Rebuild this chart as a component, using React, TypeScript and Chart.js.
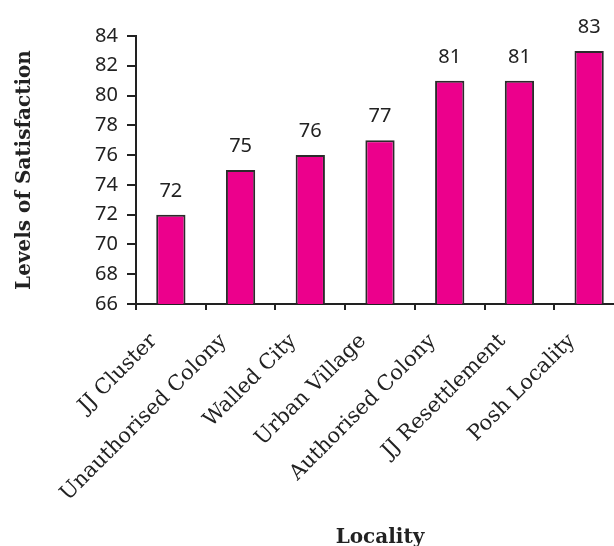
import React, { useEffect, useRef } from 'react';
import { Chart, registerables } from 'chart.js';

Chart.register(...registerables);

const categories = [
  'JJ Cluster',
  'Unauthorised Colony',
  'Walled City',
  'Urban Village',
  'Authorised Colony',
  'JJ Resettlement',
  'Posh Locality',
];
const satisfaction = [72, 75, 76, 77, 81, 81, 83];
const yTitle = 'Levels of Satisfaction';
const xTitle = 'Locality';
const yMin = 66;
const yMax = 84;
const yStep = 2;

const valueLabels = {
  id: 'valueLabels',
  afterDatasetsDraw(chart: any) {
    const ctx = chart.ctx;
    const meta = chart.getDatasetMeta(0);
    const data = chart.data.datasets[0].data;
    ctx.save();
    ctx.font = '20px "Noto Sans"';
    ctx.fillStyle = '#222';
    ctx.textAlign = 'center';
    ctx.textBaseline = 'alphabetic';
    meta.data.forEach((bar: any, i: number) => {
      ctx.fillText(String(data[i]), bar.x, bar.y - 18);
    });
    ctx.restore();
  },
};

export default function App() {
  const ref = useRef<HTMLCanvasElement>(null);
  useEffect(() => {
    if (!ref.current) return;
    const chart = new Chart(ref.current, {
      type: 'bar',
      data: {
        labels: categories,
        datasets: [
          {
            data: satisfaction,
            backgroundColor: '#EC008C',
            borderColor: '#2b2b2b',
            borderWidth: 2,
            borderSkipped: false,
            barPercentage: 1,
            categoryPercentage: 0.42,
          },
        ],
      },
      options: {
        responsive: false,
        animation: false,
        layout: { padding: { top: 36, right: 16, bottom: 0, left: 0 } },
        plugins: {
          legend: { display: false },
          tooltip: { enabled: false },
        },
        scales: {
          x: {
            grid: {
              drawOnChartArea: false,
              drawTicks: true,
              tickLength: 6,
              color: '#222',
              lineWidth: 2,
            },
            border: { color: '#222', width: 2 },
            ticks: {
              maxRotation: 45,
              minRotation: 45,
              autoSkip: false,
              padding: 19,
              labelOffset: -17,
              color: '#222',
              font: { family: '"DejaVu Serif"', size: 21 },
            },
            title: {
              display: true,
              text: xTitle,
              color: '#222',
              font: { family: '"DejaVu Serif"', size: 20, weight: 'bold' },
              padding: { top: 0, bottom: -4 },
            },
            afterFit: (s: any) => {
              s.height = 242;
            },
          },
          y: {
            min: yMin,
            max: yMax,
            grid: {
              drawOnChartArea: false,
              drawTicks: true,
              tickLength: 9,
              color: '#222',
              lineWidth: 2,
            },
            border: { color: '#222', width: 2 },
            ticks: {
              stepSize: yStep,
              padding: 9,
              color: '#222',
              font: { family: '"Noto Sans"', size: 20 },
            },
            title: {
              display: true,
              text: yTitle,
              color: '#222',
              font: { family: '"DejaVu Serif"', size: 20, weight: 'bold' },
              padding: { top: 13, bottom: 0 },
            },
            afterFit: (s: any) => {
              s.width = 136;
            },
          },
        },
      },
      plugins: [valueLabels],
    });
    return () => chart.destroy();
  }, []);

  return (
    <div
      style={{
        position: 'fixed',
        left: 0,
        top: 0,
        width: 614,
        height: 546,
        overflow: 'hidden',
        background: '#fff',
      }}
    >
      <canvas ref={ref} width={640} height={546} style={{ display: 'block' }} />
    </div>
  );
}
